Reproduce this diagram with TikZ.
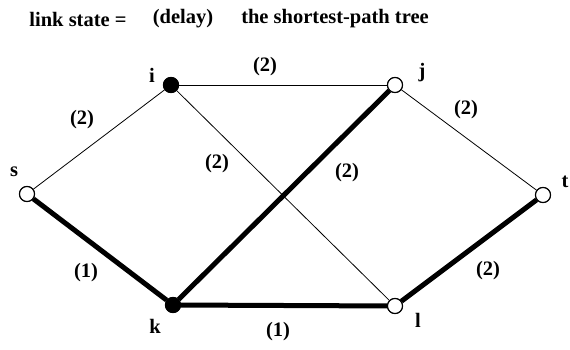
\documentclass[tikz,border=0pt]{standalone}
\usepackage{fontspec}
\setmainfont{Liberation Serif}
\begin{document}
\begin{tikzpicture}[x=1pt,y=-1pt,
  vtx/.style={circle,draw,line width=1.1pt,minimum size=15pt,inner sep=0pt,fill=white},
  fvtx/.style={vtx,fill=black},
  lbl/.style={font=\fontsize{20.5}{24}\selectfont\bfseries,inner sep=0pt},
  thin/.style={line width=0.8pt},
  tree/.style={line width=5pt}]
\useasboundingbox (0,0) rectangle (570,350);
\node[lbl] (t1) at (78,19) {link state =};
\node[lbl] (t2) at (183,19) {(delay)};
\node[lbl] (t3) at (335,19) {the shortest-path tree};
\node[vtx] (s) at (27,194) {};
\node[fvtx] (i) at (171,85) {};
\node[vtx] (j) at (395,85) {};
\node[vtx] (t) at (543,195) {};
\node[fvtx] (k) at (173,305) {};
\node[vtx] (l) at (395,306) {};
\draw[thin] (s) -- (i);
\draw[thin] (i) -- (j);
\draw[thin] (i) -- (l);
\draw[thin] (j) -- (t);
\draw[tree] (s) -- (k);
\draw[tree] (k) -- (j);
\draw[tree] (k) -- (l);
\draw[tree] (l) -- (t);
\node[vtx] at (s) {};
\node[fvtx] at (i) {};
\node[vtx] at (j) {};
\node[vtx] at (t) {};
\node[fvtx] at (k) {};
\node[vtx] at (l) {};
\node[lbl] (ls) at (14,172) {s};
\node[lbl] (li) at (152,75) {i};
\node[lbl] (lj) at (422,73) {j};
\node[lbl] (lt) at (565,182) {t};
\node[lbl] (lk) at (155,326) {k};
\node[lbl] (ll) at (418,320) {l};
\node[lbl] (w1) at (82,120) {(2)};
\node[lbl] (w2) at (265,67) {(2)};
\node[lbl] (w3) at (217,164) {(2)};
\node[lbl] (w4) at (466,110) {(2)};
\node[lbl] (w5) at (347,173) {(2)};
\node[lbl] (w6) at (86,273) {(1)};
\node[lbl] (w7) at (278,332) {(1)};
\node[lbl] (w8) at (488,271) {(2)};
\end{tikzpicture}
\end{document}
